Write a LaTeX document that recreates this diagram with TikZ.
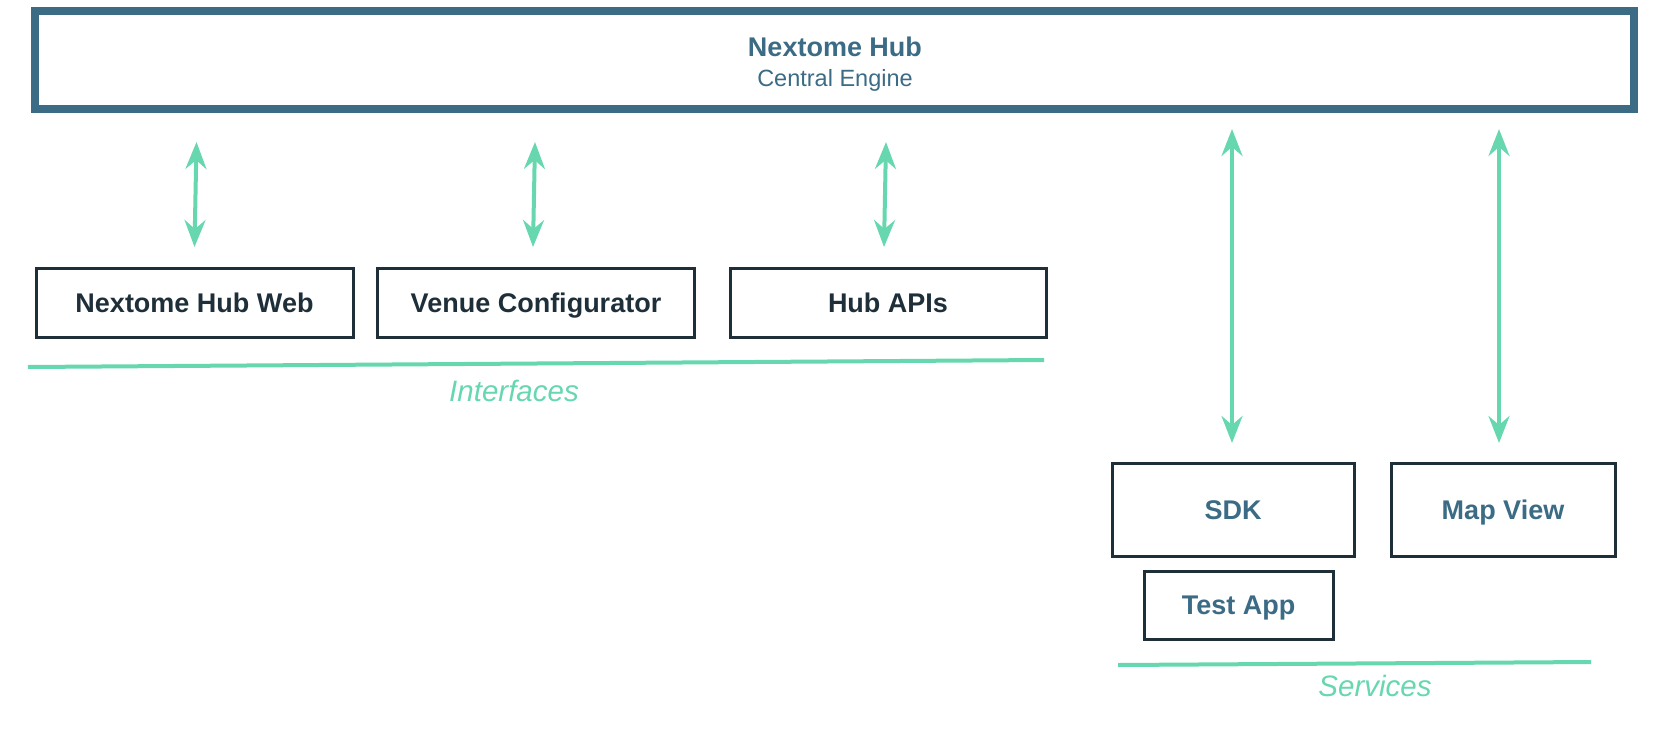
\documentclass[tikz,border=0pt]{standalone}
\usepackage{fontspec}
\setmainfont{Liberation Sans}
\usetikzlibrary{arrows.meta}
\definecolor{hubblue}{RGB}{59,107,133}
\definecolor{mint}{RGB}{102,215,174}
\definecolor{darkline}{RGB}{30,47,58}
\tikzset{
  box/.style={draw=darkline, line width=3pt, inner sep=0pt, text height=19.5pt, text depth=0pt, font=\fontsize{27}{32}\selectfont\bfseries},
  ibox/.style={box, text=darkline},
  sbox/.style={box, text=hubblue},
  arr/.style={draw=mint, line width=4pt, {Stealth[length=27pt,width=21pt,inset=9pt]}-{Stealth[length=27pt,width=21pt,inset=9pt]}},
  grp/.style={draw=mint, line width=4pt},
  grplabel/.style={text=mint, font=\fontsize{29.5}{34}\selectfont\itshape},
}
\begin{document}
\begin{tikzpicture}[x=1pt,y=-1pt]
\useasboundingbox (0,0) rectangle (1654,734);
% central hub
\node[draw=hubblue, line width=8pt, minimum width=1599pt, minimum height=98pt, inner sep=0pt] (hub) at (834.5,60) {};
\node[text=hubblue, font=\fontsize{27}{32}\selectfont\bfseries] (hubt) at (835,47) {Nextome Hub};
\node[text=hubblue, font=\fontsize{23.5}{28}\selectfont] (hubs) at (835,80) {Central Engine};
% interfaces
\node[ibox, minimum width=317pt, minimum height=69pt] (web) at (194.5,303) {Nextome Hub Web};
\node[ibox, minimum width=317pt, minimum height=69pt] (venue) at (536,303) {Venue Configurator};
\node[ibox, minimum width=316pt, minimum height=69pt] (api) at (888,303) {Hub APIs};
% services
\node[sbox, minimum width=242pt, minimum height=93pt] (sdk) at (1233,509.5) {SDK};
\node[sbox, minimum width=224pt, minimum height=93pt] (map) at (1503,509.5) {Map View};
\node[sbox, minimum width=189pt, minimum height=68pt] (test) at (1238.5,605) {Test App};
% arrow end points
\coordinate (a1t) at (196.5,142);
\coordinate (a1b) at (194.5,247);
\coordinate (a2t) at (535,142);
\coordinate (a2b) at (533,247);
\coordinate (a3t) at (886,142);
\coordinate (a3b) at (884,247);
\coordinate (a4t) at (1232,129);
\coordinate (a4b) at (1232,443);
\coordinate (a5t) at (1499,129);
\coordinate (a5b) at (1499,443);
\draw[arr] (a1t) -- (a1b);
\draw[arr] (a2t) -- (a2b);
\draw[arr] (a3t) -- (a3b);
\draw[arr] (a4t) -- (a4b);
\draw[arr] (a5t) -- (a5b);
% group lines
\coordinate (il1) at (28,367);
\coordinate (il2) at (1044,360);
\draw[grp] (il1) -- (il2);
\node[grplabel] (ilab) at (514,391) {Interfaces};
\coordinate (sl1) at (1118,665);
\coordinate (sl2) at (1591,662);
\draw[grp] (sl1) -- (sl2);
\node[grplabel] (slab) at (1375,686) {Services};
\end{tikzpicture}
\end{document}
